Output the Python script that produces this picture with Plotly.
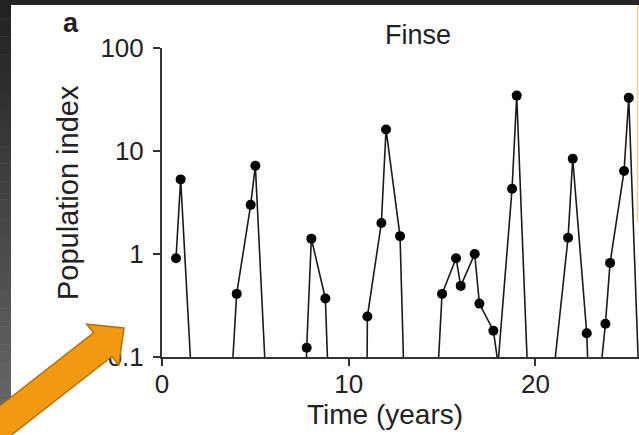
import math
import plotly.graph_objects as go

# ---------------- data ----------------
time_years = [0.75, 1.0, 1.75, 2.0, 2.75, 3.0, 3.75, 4.0, 4.75, 5.0,
              5.75, 6.0, 6.75, 7.0, 7.75, 8.0, 8.75, 9.0, 9.75, 10.0,
              10.75, 11.0, 11.75, 12.0, 12.75, 13.0, 13.75, 14.0, 14.75, 15.0,
              15.75, 16.0, 16.75, 17.0, 17.75, 18.0, 18.75, 19.0, 19.75, 20.0,
              20.75, 21.0, 21.75, 22.0, 22.75, 23.0, 23.75, 24.0, 24.75, 25.0,
              25.75]
population_index = [0.91, 5.3, 0.017, 0.01, 0.01, 0.01, 0.07, 0.41, 3.0, 7.2,
                    0.012, 0.01, 0.01, 1e-8, 0.123, 1.41, 0.37, 0.019, 0.01, 0.01,
                    1e-8, 0.247, 2.0, 16.2, 1.49, 0.035, 0.01, 0.01, 0.058, 0.41,
                    0.91, 0.49, 1.0, 0.33, 0.18, 0.086, 4.3, 34.5, 0.012, 0.01,
                    0.01, 0.076, 1.44, 8.4, 0.17, 0.0095, 0.21, 0.82, 6.4, 32.8,
                    0.0055]
y_tick_vals = [0.1, 1, 10, 100]
y_tick_text = ["0.1", "1", "10", "100"]
x_tick_vals = [0, 10, 20]
x_tick_text = ["0", "10", "20"]

# ---------------- layout geometry ----------------
W, H = 639, 435
ML, MR, MT, MB = 162, 0, 48, 78
PW, PH = W - ML - MR, H - MT - MB
X_MAX = PW / 18.67


def px(x):
    return (x - ML) / PW


def py(y):
    return (H - MB - y) / PH


FONT = "Liberation Sans, Arial, sans-serif"
TXT = "#222222"

fig = go.Figure()
fig.add_trace(go.Scatter(
    x=time_years, y=population_index, mode="lines+markers",
    line=dict(color="#1a1a1a", width=1.6),
    marker=dict(color="black", size=10),
    cliponaxis=True, showlegend=False,
))

fig.update_layout(
    width=W, height=H,
    margin=dict(l=ML, r=MR, t=MT, b=MB, pad=0),
    paper_bgcolor="white", plot_bgcolor="white",
    font=dict(family=FONT, color=TXT),
    xaxis=dict(range=[0, X_MAX], tickvals=x_tick_vals, ticktext=x_tick_text,
               ticks="outside", ticklen=7, tickwidth=1.5, tickcolor="#333",
               showline=True, linecolor="#333", linewidth=2,
               showgrid=False, zeroline=False, ticklabelstandoff=-4,
               tickfont=dict(size=26, family=FONT, color=TXT)),
    yaxis=dict(type="log", range=[-1, 2], tickvals=y_tick_vals, ticktext=y_tick_text,
               ticks="outside", ticklen=7, tickwidth=1.5, tickcolor="#333",
               showline=True, linecolor="#333", linewidth=2,
               showgrid=False, zeroline=False, ticklabelstandoff=4,
               tickfont=dict(size=26, family=FONT, color=TXT)),
)

ann = [
    dict(text="Finse", x=px(418), y=py(35), size=27, angle=0),
    dict(text="<b>a</b>", x=px(71), y=py(23), size=27, angle=0),
    dict(text="Population index", x=px(68), y=py(193), size=29, angle=-90),
    dict(text="Time (years)", x=px(385), y=py(414), size=28, angle=0),
]
for a in ann:
    fig.add_annotation(text=a["text"], x=a["x"], y=a["y"], xref="paper", yref="paper",
                       xanchor="center", yanchor="middle", showarrow=False,
                       textangle=a["angle"], font=dict(size=a["size"], family=FONT, color=TXT))

shapes = []
# dark frame: top band and left gradient band
shapes.append(dict(type="rect", xref="paper", yref="paper", x0=px(0), x1=px(639),
                   y0=py(0), y1=py(5), fillcolor="#262626", line=dict(width=0), layer="above"))
n = 24
for i in range(n):
    y0 = i * H / n
    y1 = (i + 1) * H / n
    g = int(0x22 + (0x6a - 0x22) * i / (n - 1))
    shapes.append(dict(type="rect", xref="paper", yref="paper", x0=px(0), x1=px(11),
                       y0=py(y0), y1=py(y1 + 0.5), fillcolor=f"rgb({g},{g},{g})",
                       line=dict(width=0), layer="above"))
# faint orange right border
shapes.append(dict(type="line", xref="paper", yref="paper", x0=px(637.5), x1=px(637.5),
                   y0=py(5), y1=py(222), line=dict(color="#F8D08A", width=1.5), layer="above"))

# orange arrow
th = math.radians(38)
d = (math.cos(th), -math.sin(th))
nrm = (math.sin(th), math.cos(th))
T = (124, 328)
hl, hw, sw = 27, 26, 15
M = (T[0] - hl * d[0], T[1] - hl * d[1])
A = (M[0] - hw * nrm[0], M[1] - hw * nrm[1])
C = (M[0] + hw * nrm[0], M[1] + hw * nrm[1])
S1 = (M[0] - sw * nrm[0], M[1] - sw * nrm[1])
S2 = (M[0] + sw * nrm[0], M[1] + sw * nrm[1])
L = 220
E1 = (S1[0] - L * d[0], S1[1] - L * d[1])
E2 = (S2[0] - L * d[0], S2[1] - L * d[1])
pts = [E1, S1, A, T, C, S2, E2]
path = "M " + " L ".join(f"{px(p[0]):.5f},{py(p[1]):.5f}" for p in pts) + " Z"
shapes.append(dict(type="path", xref="paper", yref="paper", path=path,
                   fillcolor="#F39A12", line=dict(color="#B86E0A", width=1.5), layer="above"))

fig.update_layout(shapes=shapes)
fig.write_html("out.html")
